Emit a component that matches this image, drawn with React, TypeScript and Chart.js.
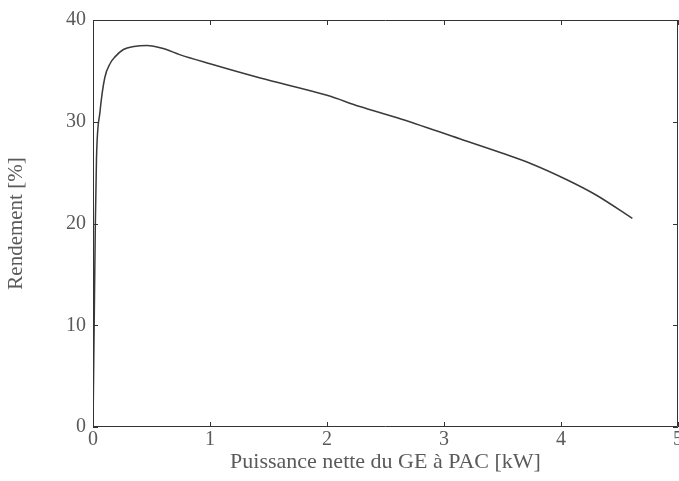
import React, { useEffect, useRef } from "react";
import { Chart, registerables } from "chart.js";

Chart.register(...registerables);

const powerKW = [0, 0.01, 0.02, 0.03, 0.06, 0.1, 0.15, 0.19, 0.26, 0.35, 0.46, 0.6, 0.74, 1.0, 1.43, 2.0, 2.28, 2.6, 3.14, 3.5, 3.74, 4.05, 4.3, 4.61];
const efficiency = [0, 10, 20, 26.5, 31, 34.3, 35.8, 36.4, 37.1, 37.4, 37.5, 37.2, 36.6, 35.7, 34.3, 32.6, 31.5, 30.4, 28.3, 26.9, 25.9, 24.3, 22.8, 20.5];
const xTicks = [0, 1, 2, 3, 4, 5];
const yTicks = [0, 10, 20, 30, 40];
const xTitle = "Puissance nette du GE à PAC [kW]";
const yTitle = "Rendement [%]";

const FONT = "'Liberation Serif', 'DejaVu Serif', serif";
const TEXT = "#5a5a5a";

const boxPlugin = {
  id: "matlabBox",
  afterDraw(chart: any) {
    const { ctx, chartArea: a, scales } = chart;
    ctx.save();
    ctx.strokeStyle = "#333";
    ctx.lineWidth = 1;
    ctx.beginPath();
    ctx.rect(a.left + 0.5, a.top + 0.5, a.right - a.left - 1, a.bottom - a.top - 1);
    ctx.stroke();
    const L = 5;
    ctx.beginPath();
    xTicks.forEach((v) => {
      const px = Math.round(scales.x.getPixelForValue(v)) + 0.5;
      ctx.moveTo(px, a.bottom);
      ctx.lineTo(px, a.bottom - L);
      ctx.moveTo(px, a.top);
      ctx.lineTo(px, a.top + L);
    });
    yTicks.forEach((v) => {
      const py = Math.round(scales.y.getPixelForValue(v)) + 0.5;
      ctx.moveTo(a.left, py);
      ctx.lineTo(a.left + L, py);
      ctx.moveTo(a.right, py);
      ctx.lineTo(a.right - L, py);
    });
    ctx.stroke();
    ctx.restore();
  },
};

export default function App() {
  const ref = useRef<HTMLCanvasElement | null>(null);
  useEffect(() => {
    document.body.style.margin = "0";
    const canvas = ref.current!;
    const chart = new Chart(canvas, {
      type: "line",
      data: {
        datasets: [
          {
            data: powerKW.map((x, i) => ({ x, y: efficiency[i] })),
            borderColor: "#3a3a3a",
            borderWidth: 1.5,
            pointRadius: 0,
            cubicInterpolationMode: "monotone",
            fill: false,
          },
        ],
      },
      options: {
        animation: false,
        responsive: false,
        maintainAspectRatio: false,
        layout: { padding: { top: 20, right: 1, left: 0, bottom: 0 } },
        plugins: { legend: { display: false }, tooltip: { enabled: false } },
        scales: {
          x: {
            type: "linear",
            min: 0,
            max: 5,
            afterBuildTicks: (s: any) => {
              s.ticks = xTicks.map((v) => ({ value: v }));
            },
            afterFit: (s: any) => {
              s.height = 54;
              s.paddingLeft = 0;
              s.paddingRight = 0;
            },
            grid: { display: false, drawTicks: false },
            border: { display: false },
            ticks: {
              color: TEXT,
              font: { family: FONT, size: 20 },
              padding: 1,
              maxRotation: 0,
              autoSkip: false,
            },
            title: {
              display: true,
              text: xTitle,
              color: TEXT,
              font: { family: FONT, size: 22 },
              padding: { top: 0, bottom: 6 },
            },
          },
          y: {
            type: "linear",
            min: 0,
            max: 40,
            afterBuildTicks: (s: any) => {
              s.ticks = yTicks.map((v) => ({ value: v }));
            },
            afterFit: (s: any) => {
              s.width = 93;
              s.paddingTop = 0;
              s.paddingBottom = 0;
            },
            grid: { display: false, drawTicks: false },
            border: { display: false },
            ticks: {
              color: TEXT,
              font: { family: FONT, size: 20 },
              padding: 7,
              autoSkip: false,
            },
            title: {
              display: true,
              text: yTitle,
              color: TEXT,
              font: { family: FONT, size: 21 },
              padding: { top: 4, bottom: 0 },
            },
          },
        },
      },
      plugins: [boxPlugin],
    } as any);
    return () => chart.destroy();
  }, []);
  return (
    <div style={{ width: 679, height: 481, background: "#fff" }}>
      <canvas ref={ref} width={679} height={481} style={{ display: "block" }} />
    </div>
  );
}
